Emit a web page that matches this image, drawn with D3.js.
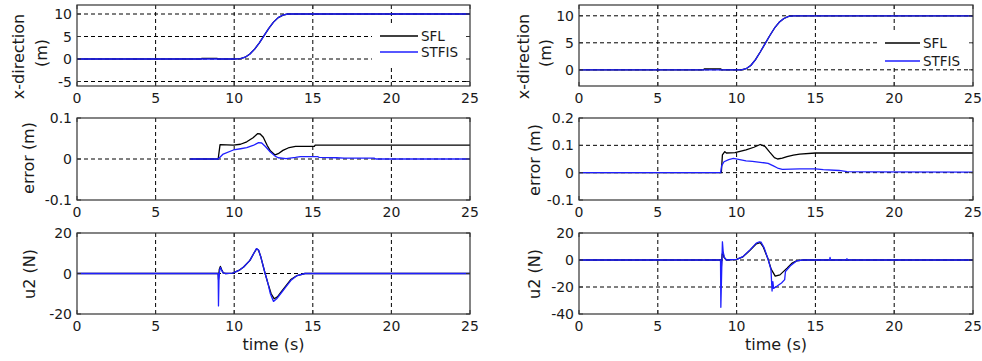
<!DOCTYPE html>
<html>
<meta charset="UTF-8">
<script src="https://d3js.org/d3.v7.min.js"></script>
<style>
    body {
        margin: 0;
        background: #fff;
    }

    svg text {
        font-family: "DejaVu Sans", sans-serif;
        fill: #1a1a1a;
    }

    .tick-label {
        font-size: 14px;
    }

    .axis-label {
        font-size: 16px;
    }

    .legend-text {
        font-size: 13.5px;
    }

    .grid line {
        stroke: #000;
        stroke-width: 1;
        stroke-dasharray: 4 3;
    }

    .frame {
        fill: none;
        stroke: #333;
        stroke-width: 1.2;
    }

    .inner-tick {
        stroke: #333;
        stroke-width: 1;
    }

    .series {
        fill: none;
        stroke-width: 1.3;
        stroke-linejoin: round;
    }
</style>

<body>
    <svg width="982" height="361"></svg>

    <script>
        // time axis and tick labels
        const timeTicks = [0, 5, 10, 15, 20, 25];
        const seriesNames = ["SFL", "STFIS"];
        const seriesColors = ["#000000", "#1f1fff"];

        // left column: x-direction (m)
        const posLeftTicks = [-5, 0, 5, 10];
        const posLeftSFL = [[0, 0], [7.9, 0], [7.95, 0.15], [8.9, 0.15], [8.95, 0], [10, 0], [10.4, 0.1], [10.7, 0.4], [11, 1.1], [11.3, 2.2], [11.6, 3.6], [11.9, 5.2], [12.2, 6.8], [12.5, 8.2], [12.8, 9.2], [13.1, 9.75], [13.4, 10], [25, 10]];
        const posLeftSTFIS = [[0, 0], [10, 0], [10.4, 0.1], [10.7, 0.4], [11, 1.1], [11.3, 2.2], [11.6, 3.6], [11.9, 5.2], [12.2, 6.8], [12.5, 8.2], [12.8, 9.2], [13.1, 9.75], [13.4, 10], [25, 10]];

        // left column: error (m)
        const errLeftTicks = [-0.1, 0, 0.1];
        const errLeftSFL = [[7.2, 0], [8.98, 0], [9.1, 0.035], [9.95, 0.034], [10.4, 0.036], [10.8, 0.042], [11.2, 0.052], [11.5, 0.062], [11.65, 0.061], [11.85, 0.053], [12.1, 0.033], [12.3, 0.02], [12.6, 0.01], [12.8, 0.013], [13.1, 0.021], [13.5, 0.028], [13.9, 0.031], [15.1, 0.031], [15.15, 0.034], [25, 0.034]];
        const errLeftSTFIS = [[7.2, 0], [8.98, 0], [9.3, 0.012], [9.95, 0.022], [10.4, 0.025], [10.8, 0.028], [11.2, 0.033], [11.55, 0.04], [11.75, 0.039], [12, 0.03], [12.3, 0.017], [12.6, 0.007], [12.8, 0.003], [13.3, 0.001], [13.9, 0.004], [14.2, 0.006], [15.3, 0.006], [15.4, 0.004], [16.5, 0.003], [17, 0.002], [18.9, 0.002], [19, 0], [25, 0]];

        // left column: u2 (N)
        const u2LeftTicks = [-20, 0, 20];
        const u2LeftSFL = [[0, 0], [8.98, 0], [9.0, -3], [9.05, 2], [9.12, 3.5], [9.2, 2], [9.3, 0.3], [9.45, 0], [9.9, 0.2], [10.3, 1.5], [10.6, 3.2], [11.0, 6.5], [11.25, 10], [11.42, 12.2], [11.55, 11.5], [11.7, 8], [11.95, 0.5], [12.15, -5], [12.35, -10], [12.55, -12.5], [12.75, -11.5], [13.0, -9], [13.3, -6], [13.6, -3], [14.0, -1], [14.5, 0], [25, 0]];
        const u2LeftSTFIS = [[0, 0], [8.98, 0], [9.0, -16], [9.03, -3], [9.08, 2], [9.13, 3], [9.2, 1.5], [9.3, 0.3], [9.45, 0], [9.9, 0.2], [10.3, 1.5], [10.6, 3.2], [11.0, 6.5], [11.25, 10], [11.42, 12.3], [11.55, 11.6], [11.7, 8], [11.95, 0.5], [12.15, -5], [12.3, -10], [12.5, -13.8], [12.7, -12.5], [13.0, -9.5], [13.3, -6.5], [13.6, -3.5], [14.0, -1], [14.5, 0], [25, 0]];

        // right column: x-direction (m)
        const posRightTicks = [0, 5, 10];
        const posRightSFL = [[0, 0], [7.9, 0], [7.95, 0.15], [9, 0.15], [9.05, 0], [10.3, 0], [10.6, 0.2], [10.9, 0.8], [11.2, 1.9], [11.5, 3.3], [11.8, 4.8], [12.1, 6.3], [12.4, 7.7], [12.7, 8.8], [13, 9.5], [13.3, 9.9], [13.6, 10], [25, 10]];
        const posRightSTFIS = [[0, 0], [10.3, 0], [10.6, 0.2], [10.9, 0.8], [11.2, 1.9], [11.5, 3.3], [11.8, 4.8], [12.1, 6.3], [12.4, 7.7], [12.7, 8.8], [13, 9.5], [13.3, 9.9], [13.6, 10], [25, 10]];

        // right column: error (m)
        const errRightTicks = [-0.1, 0, 0.1, 0.2];
        const errRightSFL = [[0, 0], [9.03, 0], [9.1, 0.065], [9.25, 0.077], [9.35, 0.072], [9.9, 0.073], [10.6, 0.083], [11.1, 0.093], [11.5, 0.103], [11.8, 0.096], [12.1, 0.075], [12.4, 0.055], [12.6, 0.05], [12.9, 0.053], [13.2, 0.059], [13.6, 0.064], [14, 0.068], [15, 0.072], [25, 0.072]];
        const errRightSTFIS = [[0, 0], [8.99, 0], [9.05, 0.025], [9.2, 0.04], [9.5, 0.048], [9.8, 0.052], [10.2, 0.048], [10.6, 0.043], [11, 0.041], [11.5, 0.038], [12, 0.034], [12.3, 0.026], [12.6, 0.017], [12.9, 0.012], [14, 0.014], [15, 0.014], [15.5, 0.011], [16.5, 0.008], [17, 0.004], [18.5, 0.003], [25, 0.002]];

        // right column: u2 (N)
        const u2RightTicks = [-40, -20, 0, 20];
        const u2RightSFL = [[0, 0], [8.98, 0], [9.02, -8], [9.08, 4], [9.13, 6], [9.2, 2], [9.35, 0], [10, 0.5], [10.4, 2.3], [10.85, 7.2], [11.25, 12], [11.5, 12.8], [11.7, 9.5], [12.0, 0.5], [12.2, -7], [12.45, -12], [12.75, -11], [13.2, -6], [13.5, -2.5], [13.8, -0.7], [14.2, 0], [25, 0]];
        const u2RightSTFIS = [[0, 0], [8.98, 0], [9.0, -35], [9.06, -5], [9.1, 13.5], [9.15, 6], [9.22, 2], [9.35, 0], [10, 0.5], [10.4, 2.5], [10.85, 7.5], [11.25, 12.5], [11.45, 13.5], [11.55, 13.3], [11.75, 9], [12.0, 0.5], [12.18, -7], [12.25, -23], [12.3, -16], [12.35, -21], [12.55, -19.5], [12.85, -17], [13.05, -14.5], [13.1, -8.5], [13.4, -4.5], [13.8, -0.7], [14.2, 0], [15.9, 0], [15.93, 2], [15.96, 0], [16.97, 0], [17.0, 1], [17.03, 0], [25, 0]];

        // panel layout (pixel boxes of the axes)
        const cols = [{ x0: 77, x1: 470 }, { x0: 579, x1: 973 }];
        const rows = [{ y0: 5, y1: 86 }, { y0: 118, y1: 200 }, { y0: 233, y1: 314 }];

        const panels = [
            { col: 0, row: 0, domain: [-6, 12], ticks: posLeftTicks, data: [posLeftSFL, posLeftSTFIS], label: ["x-direction", "(m)"], labelPos: [[18, 56.5], [41, 53]], legend: { x0: 372, x1: 469, y0: 24, y1: 68, ys: [36, 52], lx: 380, lw: 38 } },
            { col: 0, row: 1, domain: [-0.1, 0.1], ticks: errLeftTicks, data: [errLeftSFL, errLeftSTFIS], label: ["error (m)"], labelPos: [[28, 158]] },
            { col: 0, row: 2, domain: [-20, 20], ticks: u2LeftTicks, data: [u2LeftSFL, u2LeftSTFIS], label: ["u2 (N)"], labelPos: [[29, 274]], xlabel: "time (s)" },
            { col: 1, row: 0, domain: [-3, 12], ticks: posRightTicks, data: [posRightSFL, posRightSTFIS], label: ["x-direction", "(m)"], labelPos: [[523, 56.5], [545, 53]], legend: { x0: 877, x1: 972, y0: 30, y1: 68, ys: [43, 61], lx: 885, lw: 35 } },
            { col: 1, row: 1, domain: [-0.1, 0.2], ticks: errRightTicks, data: [errRightSFL, errRightSTFIS], label: ["error (m)"], labelPos: [[534, 160]] },
            { col: 1, row: 2, domain: [-40, 20], ticks: u2RightTicks, data: [u2RightSFL, u2RightSTFIS], label: ["u2 (N)"], labelPos: [[534, 274]], xlabel: "time (s)" }
        ];

        const svg = d3.select("svg");
        const fmt = d => String(d);

        panels.forEach((p, i) => {
            const c = cols[p.col], r = rows[p.row];
            const x = d3.scaleLinear().domain([0, 25]).range([c.x0, c.x1]);
            const y = d3.scaleLinear().domain(p.domain).range([r.y1, r.y0]);
            const g = svg.append("g");

            svg.append("clipPath").attr("id", "clip" + i)
                .append("rect")
                .attr("x", c.x0).attr("y", r.y0)
                .attr("width", c.x1 - c.x0).attr("height", r.y1 - r.y0);

            // dashed grid
            const grid = g.append("g").attr("class", "grid");
            grid.selectAll(".gx")
                .data(timeTicks.filter(t => t > 0 && t < 25))
                .enter().append("line")
                .attr("x1", d => x(d)).attr("x2", d => x(d))
                .attr("y1", r.y0).attr("y2", r.y1);
            grid.selectAll(".gy")
                .data(p.ticks.filter(t => t > p.domain[0] && t < p.domain[1]))
                .enter().append("line")
                .attr("x1", c.x0).attr("x2", c.x1)
                .attr("y1", d => y(d)).attr("y2", d => y(d));

            // data lines, SFL first then STFIS on top
            const line = d3.line().x(d => x(d[0])).y(d => y(d[1]));
            g.append("g").attr("clip-path", `url(#clip${i})`)
                .selectAll("path")
                .data(p.data)
                .enter().append("path")
                .attr("class", "series")
                .attr("stroke", (d, k) => seriesColors[k])
                .attr("d", line);

            // legend
            if (p.legend) {
                const L = p.legend;
                const lg = g.append("g");
                lg.append("rect")
                    .attr("x", L.x0).attr("y", L.y0)
                    .attr("width", L.x1 - L.x0).attr("height", L.y1 - L.y0)
                    .attr("fill", "#fff");
                seriesNames.forEach((name, k) => {
                    lg.append("line")
                        .attr("x1", L.lx).attr("x2", L.lx + L.lw)
                        .attr("y1", L.ys[k]).attr("y2", L.ys[k])
                        .attr("stroke", seriesColors[k])
                        .attr("stroke-width", 1.3);
                    lg.append("text")
                        .attr("class", "legend-text")
                        .attr("x", L.lx + L.lw + 3).attr("y", L.ys[k])
                        .attr("dy", "0.36em")
                        .text(name);
                });
            }

            // frame and inward ticks
            g.append("rect").attr("class", "frame")
                .attr("x", c.x0).attr("y", r.y0)
                .attr("width", c.x1 - c.x0).attr("height", r.y1 - r.y0);
            const tk = 4;
            timeTicks.forEach(t => {
                g.append("line").attr("class", "inner-tick")
                    .attr("x1", x(t)).attr("x2", x(t)).attr("y1", r.y1).attr("y2", r.y1 - tk);
                g.append("line").attr("class", "inner-tick")
                    .attr("x1", x(t)).attr("x2", x(t)).attr("y1", r.y0).attr("y2", r.y0 + tk);
            });
            p.ticks.forEach(v => {
                g.append("line").attr("class", "inner-tick")
                    .attr("x1", c.x0).attr("x2", c.x0 + tk).attr("y1", y(v)).attr("y2", y(v));
                g.append("line").attr("class", "inner-tick")
                    .attr("x1", c.x1).attr("x2", c.x1 - tk).attr("y1", y(v)).attr("y2", y(v));
            });

            // tick labels
            g.selectAll(".xl")
                .data(timeTicks)
                .enter().append("text")
                .attr("class", "tick-label")
                .attr("x", d => x(d)).attr("y", r.y1 + 17)
                .attr("text-anchor", "middle")
                .text(fmt);
            g.selectAll(".yl")
                .data(p.ticks)
                .enter().append("text")
                .attr("class", "tick-label")
                .attr("x", c.x0 - 5).attr("y", d => y(d))
                .attr("dy", "0.36em")
                .attr("text-anchor", "end")
                .text(fmt);

            // axis labels
            p.label.forEach((txt, k) => {
                g.append("text")
                    .attr("class", "axis-label")
                    .attr("transform", `translate(${p.labelPos[k][0]},${p.labelPos[k][1]}) rotate(-90)`)
                    .attr("text-anchor", "middle")
                    .attr("dy", "0.36em")
                    .text(txt);
            });
            if (p.xlabel) {
                g.append("text")
                    .attr("class", "axis-label")
                    .attr("x", (c.x0 + c.x1) / 2).attr("y", 350)
                    .attr("text-anchor", "middle")
                    .text(p.xlabel);
            }
        });
    </script>
</body>

</html>
